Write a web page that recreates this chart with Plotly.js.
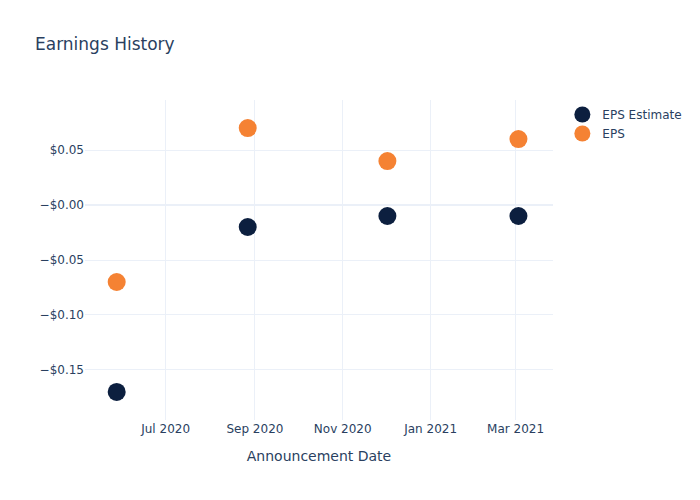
<!DOCTYPE html>
<html><head><meta charset="utf-8">
<script src="https://cdn.plot.ly/plotly-3.0.1.min.js"></script>
<style>body{margin:0}#chart{width:700px;height:500px}</style>
</head><body><div id="chart"></div>
<script>
const dates = ["2020-05-28", "2020-08-27", "2020-12-02", "2021-03-03"];
const epsEstimate = [-0.17, -0.02, -0.01, -0.01];
const eps = [-0.07, 0.07, 0.04, 0.06];
const yTickVals = [0.05, 0, -0.05, -0.10, -0.15];
const yTickText = ["$0.05", "\u2212$0.00", "\u2212$0.05", "\u2212$0.10", "\u2212$0.15"];

const data = [
  {x: dates, y: epsEstimate, name: "EPS Estimate", type: "scatter", mode: "markers",
   marker: {color: "#0c1f3f", size: 18}},
  {x: dates, y: eps, name: "EPS", type: "scatter", mode: "markers",
   marker: {color: "#f58233", size: 18}}
];
const layout = {
  width: 700, height: 500,
  template: "plotly_white",
  font: {family: "DejaVu Sans, sans-serif", color: "#2a3f5f", size: 12},
  title: {text: "Earnings History", x: 0.05, xanchor: "left", y: 0.924, font: {size: 17}},
  margin: {l: 85, r: 147, t: 100, b: 80},
  plot_bgcolor: "white", paper_bgcolor: "white",
  xaxis: {type: "date", range: ["2020-05-06", "2021-03-27"],
    title: {text: "Announcement Date", font: {size: 14}, standoff: 16},
    automargin: false,
    gridcolor: "#EBF0F8", showline: false, zeroline: false, dtick: "M2", tickformat: "%b %Y"},
  yaxis: {range: [-0.1955, 0.0955], tickvals: yTickVals, ticktext: yTickText,
    gridcolor: "#EBF0F8", zeroline: true, zerolinecolor: "#EBF0F8", zerolinewidth: 2},
  legend: {x: 1.02, y: 1, xanchor: "left", yanchor: "top"},
  showlegend: true
};
Plotly.newPlot("chart", data, layout, {displayModeBar: false});
</script></body></html>
